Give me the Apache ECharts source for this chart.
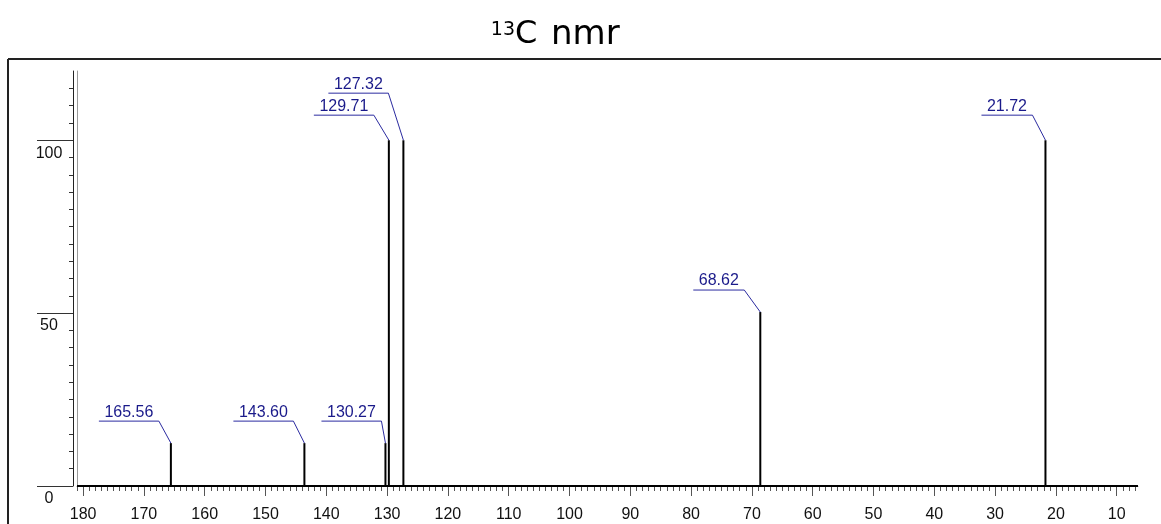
<!DOCTYPE html>
<html>
<head>
<meta charset="utf-8">
<title>13C nmr</title>
<script src="https://cdn.jsdelivr.net/npm/echarts@6/dist/echarts.min.js"></script>
<style>
  html, body { margin: 0; padding: 0; background: #fff; }
  #chart { width: 1161px; height: 524px; }
</style>
</head>
<body>
<div id="chart"></div>
<script>
// peak positions (ppm), relative intensities and their printed labels
const shifts = [165.56, 143.60, 130.27, 129.71, 127.32, 68.62, 21.72];
const intensities = [12.4, 12.4, 12.4, 100, 100, 50.3, 100];
const peakLabels = ['165.56', '143.60', '130.27', '129.71', '127.32', '68.62', '21.72'];

// axis tick labels
const xTickLabels = [180, 170, 160, 150, 140, 130, 120, 110, 100, 90, 80, 70, 60, 50, 40, 30, 20, 10];
const yTickLabels = [0, 50, 100];

// leader line offsets in px (dx left, dy up from peak top)
const leaderOffsets = [[12, 22], [11, 22], [4, 22], [15, 25], [15, 47], [16, 22], [13, 25]];

const X_MIN = 6.5, X_MAX = 181, Y_MAX = 120;
const LABEL_FONT = '16px "Liberation Sans", Arial, sans-serif';
const TITLE_FONT = '"DejaVu Sans", Verdana, sans-serif';

// minor tick positions
const xMinor = [];
for (let v = 7; v <= 181; v++) xMinor.push(v);
const yMinor = [];
for (let v = 5; v < Y_MAX; v += 5) yMinor.push(v);

const measureCtx = document.createElement('canvas').getContext('2d');
measureCtx.font = LABEL_FONT;

function renderPeak(params, api) {
    const x = api.value(0);
    const h = api.value(1);
    const base = api.coord([x, 0]);
    const top = api.coord([x, h]);
    const off = leaderOffsets[params.dataIndex];
    const text = peakLabels[params.dataIndex];
    const w = Math.round(measureCtx.measureText(text).width) + 11;
    const ex = top[0] - off[0];
    const ey = top[1] - off[1];
    return {
        type: 'group',
        children: [
            {
                type: 'line',
                shape: { x1: base[0], y1: base[1], x2: top[0], y2: top[1] },
                style: { stroke: '#000', lineWidth: 2 }
            },
            {
                type: 'polyline',
                shape: { points: [[top[0], top[1]], [ex, ey], [ex - w, ey]] },
                style: { stroke: '#2b2ba0', lineWidth: 1, fill: null }
            },
            {
                type: 'text',
                x: ex - w / 2,
                y: ey - 1,
                style: {
                    text: text,
                    fill: '#1a1a8a',
                    font: LABEL_FONT,
                    align: 'center',
                    verticalAlign: 'bottom'
                }
            }
        ]
    };
}

const chart = echarts.init(document.getElementById('chart'));

const option = {
    animation: false,
    backgroundColor: '#fff',
    grid: { left: 77, right: 23, top: 71, bottom: 38, containLabel: false },
    xAxis: [
        {
            type: 'value',
            min: X_MIN,
            max: X_MAX,
            inverse: true,
            position: 'bottom',
            offset: 5,
            axisLine: { show: true, lineStyle: { color: '#999', width: 1 } },
            axisTick: { show: true, length: 10, customValues: xTickLabels, lineStyle: { color: '#555' } },
            axisLabel: {
                customValues: xTickLabels,
                margin: 16,
                color: '#111',
                fontSize: 16,
                fontFamily: '"Liberation Sans", Arial, sans-serif'
            },
            splitLine: { show: false }
        },
        {
            type: 'value',
            min: X_MIN,
            max: X_MAX,
            inverse: true,
            position: 'bottom',
            offset: 5,
            axisLine: { show: false },
            axisTick: { show: true, length: 5, customValues: xMinor, lineStyle: { color: '#555' } },
            axisLabel: { show: false },
            splitLine: { show: false }
        }
    ],
    yAxis: [
        {
            type: 'value',
            min: 0,
            max: Y_MAX,
            position: 'left',
            offset: 4,
            axisLine: { show: true, lineStyle: { color: '#222', width: 1 } },
            axisTick: { show: true, length: 4, customValues: yMinor, lineStyle: { color: '#333' } },
            axisLabel: { show: false },
            splitLine: { show: false }
        },
        {
            type: 'value',
            min: 0,
            max: Y_MAX,
            position: 'left',
            offset: 4,
            axisLine: { show: false },
            axisTick: { show: true, length: 36, customValues: yTickLabels, lineStyle: { color: '#333' } },
            axisLabel: {
                customValues: yTickLabels,
                align: 'center',
                verticalAlign: 'top',
                padding: [5, 0, 0, 0],
                margin: 24,
                color: '#111',
                fontSize: 16,
                fontFamily: '"Liberation Sans", Arial, sans-serif'
            },
            splitLine: { show: false }
        },
        {
            type: 'value',
            min: 0,
            max: Y_MAX,
            position: 'left',
            offset: 0,
            axisLine: { show: true, lineStyle: { color: '#999', width: 1 } },
            axisTick: { show: false },
            axisLabel: { show: false },
            splitLine: { show: false }
        }
    ],
    graphic: [
        // outer frame (cut off at right and bottom)
        { type: 'line', shape: { x1: 8, y1: 59, x2: 1161, y2: 59 }, style: { stroke: '#222', lineWidth: 2 } },
        { type: 'line', shape: { x1: 8, y1: 59, x2: 8, y2: 524 }, style: { stroke: '#222', lineWidth: 2 } },
        // title: 13C nmr
        {
            type: 'text', x: 515, y: 30,
            style: { text: '13', font: '19px ' + TITLE_FONT, fill: '#000', align: 'right', verticalAlign: 'middle' }
        },
        {
            type: 'text', x: 515, y: 35,
            style: { text: 'C', font: '32px ' + TITLE_FONT, fill: '#000', align: 'left', verticalAlign: 'middle' }
        },
        {
            type: 'text', x: 551, y: 35,
            style: { text: 'nmr', font: '34px ' + TITLE_FONT, fill: '#000', align: 'left', verticalAlign: 'middle' }
        }
    ],
    series: [
        {
            type: 'custom',
            name: '13C',
            xAxisIndex: 0,
            yAxisIndex: 0,
            clip: false,
            renderItem: renderPeak,
            encode: { x: 0, y: 1 },
            data: shifts.map((s, i) => [s, intensities[i]]),
            markLine: {
                silent: true,
                symbol: ['none', 'none'],
                label: { show: false },
                lineStyle: { color: '#000', width: 2, type: 'solid' },
                data: [{ yAxis: 0 }]
            }
        }
    ]
};

chart.setOption(option);

window.addEventListener('resize', function () {
    chart.resize();
});
</script>
</body>
</html>
